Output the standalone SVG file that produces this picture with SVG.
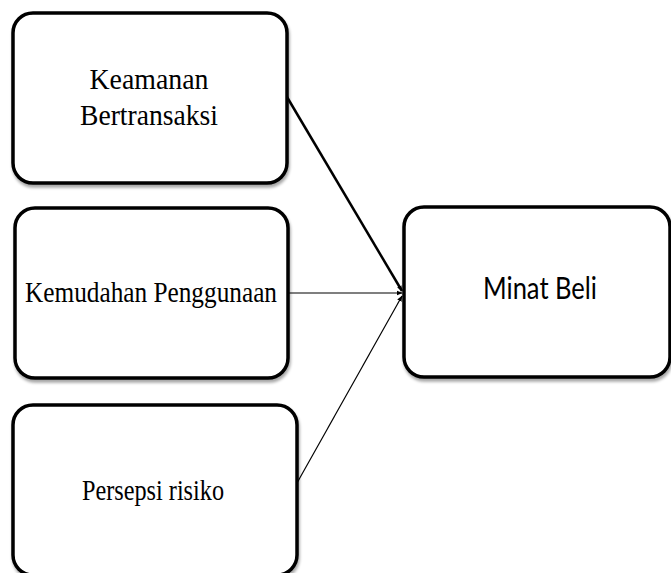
<svg xmlns="http://www.w3.org/2000/svg" width="671" height="573" viewBox="0 0 671 573">
<style>
.box{fill:#fff;stroke:#000;stroke-width:3.5}
.sh{fill:#bbb;opacity:0.5}
.serif{font-family:"Liberation Serif","Times New Roman",serif;font-size:30px;fill:#000;text-anchor:middle}
.sans{font-family:Lato,"Open Sans","Liberation Sans",sans-serif;font-size:30px;fill:#000;text-anchor:middle}
.ln{stroke:#000;fill:none}
</style>
<defs>
<marker id="ah" viewBox="0 0 10 10" refX="9" refY="5" markerWidth="6" markerHeight="6" markerUnits="userSpaceOnUse" orient="auto">
<path d="M0,1 L10,5 L0,9 z" fill="#000"/>
</marker>
<filter id="ds" x="-5%" y="-5%" width="112%" height="115%">
<feGaussianBlur in="SourceAlpha" stdDeviation="1.5"/>
<feOffset dx="1" dy="3" result="b"/>
<feComponentTransfer><feFuncA type="linear" slope="0.35"/></feComponentTransfer>
<feMerge><feMergeNode/><feMergeNode in="SourceGraphic"/></feMerge>
</filter>
</defs>
<g id="connectors">
<line class="ln" x1="287" y1="97" x2="402" y2="291" stroke-width="2.5" marker-end="url(#ah)"/>
<line class="ln" x1="288" y1="293" x2="402" y2="293" stroke-width="1.2" marker-end="url(#ah)"/>
<line class="ln" x1="297" y1="483" x2="402" y2="296" stroke-width="1.2" marker-end="url(#ah)"/>
</g>
<g id="node-keamanan">
<rect class="box" x="13" y="13" width="274" height="170" rx="20" filter="url(#ds)"/>
<text class="serif" x="149" y="89" textLength="119" lengthAdjust="spacingAndGlyphs">Keamanan</text>
<text class="serif" x="149" y="125" textLength="138" lengthAdjust="spacingAndGlyphs">Bertransaksi</text>
</g>
<g id="node-kemudahan">
<rect class="box" x="15" y="208" width="273" height="170" rx="20" filter="url(#ds)"/>
<text class="serif" x="151" y="302" textLength="252" lengthAdjust="spacingAndGlyphs">Kemudahan Penggunaan</text>
</g>
<g id="node-persepsi">
<rect class="box" x="13" y="405" width="284" height="170" rx="20" filter="url(#ds)"/>
<text class="serif" x="153" y="500" textLength="142" lengthAdjust="spacingAndGlyphs">Persepsi risiko</text>
</g>
<g id="node-minat">
<rect class="box" x="404" y="207" width="266" height="170" rx="20" filter="url(#ds)"/>
<text class="sans" x="540" y="299" textLength="114" lengthAdjust="spacingAndGlyphs">Minat Beli</text>
</g>
</svg>
